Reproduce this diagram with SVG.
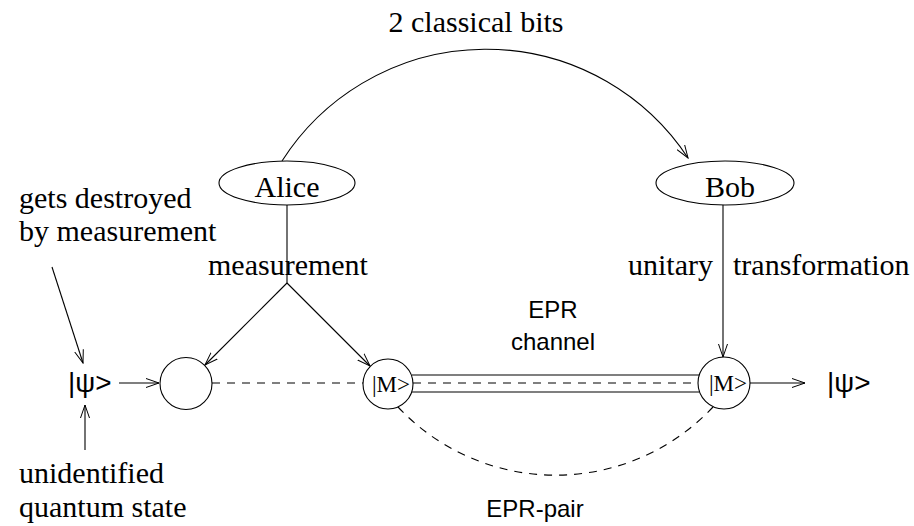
<svg xmlns="http://www.w3.org/2000/svg" width="914" height="526" viewBox="0 0 914 526">
<defs>
<marker id="arr" markerWidth="14" markerHeight="10" refX="13" refY="5" orient="auto" markerUnits="userSpaceOnUse">
<path d="M0,0.5 L13,5 L0,9.5" fill="none" stroke="#000" stroke-width="1"/>
</marker>
<style>
.ln{fill:none;stroke:#000;stroke-width:1.1}
.dash{fill:none;stroke:#000;stroke-width:1.1;stroke-dasharray:8 7}
.sh{fill:#fff;stroke:#000;stroke-width:1.1}
.serif{font-family:"Liberation Serif","Times New Roman",serif;font-size:30px;fill:#000}
.sans{font-family:"Liberation Sans",Arial,sans-serif;font-size:24px;fill:#000}
.psi{font-family:"Liberation Sans",Arial,sans-serif;font-size:28px;fill:#000}
.m{font-family:"Liberation Serif","Times New Roman",serif;font-size:23px;fill:#000}
</style>
</defs>
<rect width="914" height="526" fill="#fff"/>

<g id="labels">
<text class="serif" x="476" y="32" text-anchor="middle">2 classical bits</text>
<text class="serif" x="19" y="208">gets destroyed</text>
<text class="serif" x="19" y="241">by measurement</text>
<text class="serif" x="19" y="483">unidentified</text>
<text class="serif" x="19" y="517">quantum state</text>
<text class="serif" x="208" y="275">measurement</text>
<text class="serif" x="713" y="275" text-anchor="end">unitary</text>
<text class="serif" x="733" y="275">transformation</text>
<text class="sans" x="553" y="318" text-anchor="middle">EPR</text>
<text class="sans" x="553" y="350" text-anchor="middle">channel</text>
<text class="sans" x="535" y="517" text-anchor="middle">EPR-pair</text>
</g>

<g id="connectors">
<path class="ln" d="M282,161 A242,242 0 0 1 688,158" marker-end="url(#arr)"/>
<line class="ln" x1="287" y1="205" x2="287" y2="283"/>
<line class="ln" x1="287" y1="283" x2="205" y2="365" marker-end="url(#arr)"/>
<line class="ln" x1="287" y1="283" x2="370" y2="366" marker-end="url(#arr)"/>
<line class="ln" x1="723" y1="205" x2="723" y2="357" marker-end="url(#arr)"/>
<line class="ln" x1="52" y1="267" x2="83" y2="363" marker-end="url(#arr)"/>
<line class="ln" x1="85" y1="450" x2="85" y2="405" marker-end="url(#arr)"/>
<line class="ln" x1="119" y1="383" x2="159" y2="383" marker-end="url(#arr)"/>
<line class="ln" x1="750" y1="383" x2="805" y2="383" marker-end="url(#arr)"/>
<line class="dash" x1="212" y1="383" x2="363" y2="383"/>
<line class="ln" x1="412" y1="375" x2="699" y2="375"/>
<line class="ln" x1="412" y1="392" x2="699" y2="392"/>
<line class="dash" x1="413" y1="383" x2="698" y2="383"/>
<path class="dash" d="M398,407 A216,216 0 0 0 713,407"/>
</g>

<g id="alice">
<ellipse class="sh" cx="287" cy="183" rx="68" ry="22"/>
<text class="serif" x="287" y="197" text-anchor="middle">Alice</text>
</g>
<g id="bob">
<ellipse class="sh" cx="725" cy="183" rx="69" ry="22"/>
<text class="serif" x="730" y="197" text-anchor="middle">Bob</text>
</g>
<g id="psi-in">
<text class="psi" x="68" y="392">|ψ&gt;</text>
</g>
<g id="circle1">
<circle class="sh" cx="186" cy="383.5" r="26"/>
</g>
<g id="m-left">
<circle class="sh" cx="388" cy="384" r="25"/>
<text class="m" x="391" y="392" text-anchor="middle">|M&gt;</text>
</g>
<g id="m-right">
<circle class="sh" cx="724" cy="383" r="26"/>
<text class="m" x="728" y="391" text-anchor="middle">|M&gt;</text>
</g>
<g id="psi-out">
<text class="psi" x="827" y="392">|ψ&gt;</text>
</g>
</svg>
